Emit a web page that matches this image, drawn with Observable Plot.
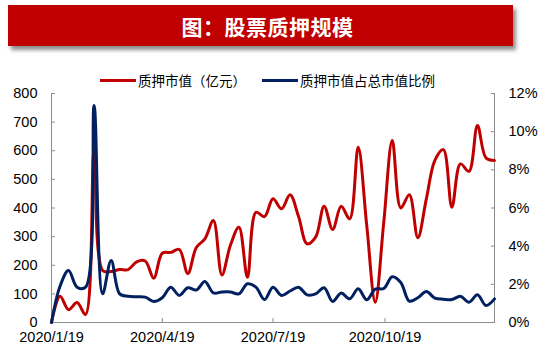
<!DOCTYPE html>
<html><head><meta charset="utf-8">
<script src="https://cdn.jsdelivr.net/npm/d3@7"></script>
<script src="https://cdn.jsdelivr.net/npm/@observablehq/plot@0.6"></script>
<style>
body{margin:0;background:#fff;font-family:"Liberation Sans","Noto Sans CJK SC",sans-serif;}
#wrap{position:relative;width:550px;height:354px;overflow:hidden;}
#title{position:absolute;left:8px;top:5px;width:505px;height:41px;background:#C00000;box-shadow:3px 4px 4px rgba(0,0,0,0.45);color:#fff;font-weight:bold;font-size:21px;font-family:"Noto Sans CJK SC",sans-serif;display:flex;align-items:center;justify-content:center;padding-left:14px;box-sizing:border-box;letter-spacing:0.5px;}
.leg{position:absolute;top:71px;height:18px;display:flex;align-items:center;font-size:13.5px;font-family:"Noto Sans CJK SC",sans-serif;color:#000;white-space:nowrap;}
.leg span.sw{display:inline-block;width:36px;height:3px;margin-right:2px;}
#chart{position:absolute;left:0;top:0;}
</style></head>
<body>
<div id="wrap">
  <div id="chart"></div>
  <div id="title">图：股票质押规模</div>
  <div class="leg" style="left:100px"><span class="sw" style="background:#C00000"></span>质押市值（亿元）</div>
  <div class="leg" style="left:262px"><span class="sw" style="background:#002060"></span>质押市值占总市值比例</div>
</div>
<script>
// Weekly observations starting 2020/1/19
const startDate = "2020-01-19";
// 质押市值（亿元）
const pledgeValue = [0, 92, 45, 70, 28, 600, 182, 178, 185, 185, 212, 215, 155, 242, 245, 255, 171, 262, 292, 356, 166, 270, 333, 158, 385, 370, 432, 397, 446, 370, 275, 298, 406, 325, 406, 362, 612, 340, 71, 350, 636, 400, 446, 296, 432, 566, 604, 403, 554, 528, 688, 575, 566];
// 质押市值占总市值比例 (%)
const pledgeRatio = [0, 1.9, 2.72, 1.85, 1.85, 11.37, 1.5, 3.25, 1.5, 1.38, 1.35, 1.33, 1.1, 1.3, 1.85, 1.42, 1.82, 1.7, 2.15, 1.55, 1.6, 1.6, 1.5, 2.03, 1.85, 1.2, 1.85, 1.42, 1.65, 1.85, 1.45, 1.5, 1.82, 1.1, 1.55, 1.24, 1.77, 1.19, 1.75, 1.78, 2.4, 2.1, 1.12, 1.3, 1.62, 1.28, 1.22, 1.2, 1.38, 1.06, 1.45, 0.89, 1.24];
const xTickLabels = ["2020/1/19", "2020/4/19", "2020/7/19", "2020/10/19"];
const leftTicks = [0, 100, 200, 300, 400, 500, 600, 700, 800];
const rightTicks = [0, 2, 4, 6, 8, 10, 12];

const leftMax = 800, rightMax = 12;
const toLeft = p => p * leftMax / rightMax;
const parseLabel = s => { const [y, m, d] = s.split("/").map(Number); return new Date(Date.UTC(y, m - 1, d)); };
const fmt = d => `${d.getUTCFullYear()}/${d.getUTCMonth() + 1}/${d.getUTCDate()}`;

const start = new Date(startDate + "T00:00:00Z");
const dates = pledgeValue.map((_, i) => d3.utcDay.offset(start, 7 * i));
const redRows = pledgeValue.map((v, i) => ({date: dates[i], v}));
const blueRows = pledgeRatio.map((p, i) => ({date: dates[i], v: toLeft(p)}));
const xTicks = xTickLabels.map(parseLabel);
const axisColor = "#8c8c8c";
const fs = 14.5;

const chart = Plot.plot({
  width: 550, height: 354,
  marginTop: 93, marginBottom: 32, marginLeft: 51, marginRight: 56,
  x: {type: "utc", domain: [dates[0], dates[dates.length - 1]]},
  y: {domain: [0, leftMax]},
  style: {fontFamily: "'Liberation Sans', Arial, sans-serif", fontSize: fs + "px", color: "#000", background: "transparent"},
  marks: [
    Plot.ruleX([dates[0], dates[dates.length - 1]], {stroke: axisColor, strokeWidth: 1}),
    Plot.ruleY([0], {stroke: axisColor, strokeWidth: 1}),
    // inward tick marks
    Plot.axisY({ticks: leftTicks, anchor: "left", tickSize: 4, dx: 4, tickFormat: () => "", stroke: axisColor, label: null}),
    Plot.axisY({ticks: rightTicks.map(toLeft), anchor: "right", tickSize: 4, dx: -4, tickFormat: () => "", stroke: axisColor, label: null}),
    Plot.axisX({ticks: xTicks, anchor: "bottom", tickSize: 4, dy: -4, tickFormat: () => "", stroke: axisColor, label: null}),
    // labels
    Plot.axisY({ticks: leftTicks, anchor: "left", tickSize: 0, tickPadding: 14, label: null, fill: "#000", fontSize: fs}),
    Plot.axisY({ticks: rightTicks.map(toLeft), anchor: "right", tickSize: 0, tickPadding: 14, label: null, fill: "#000", fontSize: fs,
      tickFormat: d => Math.round(d * rightMax / leftMax) + "%"}),
    Plot.axisX({ticks: xTicks, anchor: "bottom", tickSize: 0, tickPadding: 9, label: null, fill: "#000", fontSize: fs, tickFormat: fmt}),
    Plot.line(redRows, {x: "date", y: "v", stroke: "#C00000", strokeWidth: 3, curve: "catmull-rom"}),
    Plot.line(blueRows, {x: "date", y: "v", stroke: "#002060", strokeWidth: 3, curve: "catmull-rom"})
  ]
});
document.getElementById("chart").appendChild(chart);
</script>
</body></html>
